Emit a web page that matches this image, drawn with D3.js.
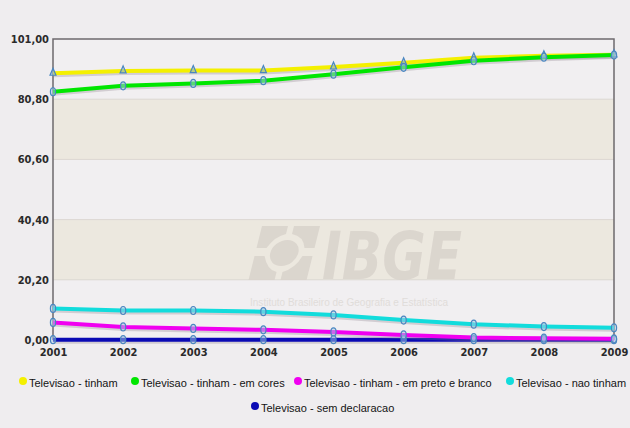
<!DOCTYPE html>
<html>
<head>
<meta charset="utf-8">
<script src="https://cdn.jsdelivr.net/npm/d3@7"></script>
<style>
  html, body { margin: 0; padding: 0; background: #efedef; }
  svg { display: block; }
</style>
</head>
<body>
<svg id="chart" width="630" height="428"></svg>
<script>
// Domicílios com televisão, 2001–2009 (%)
const years = [2001, 2002, 2003, 2004, 2005, 2006, 2007, 2008, 2009];
const tinham        = [89.5, 90.3, 90.4, 90.4, 91.6, 93.0, 94.7, 95.4, 95.7];
const tinhamCores   = [83.3, 85.3, 86.1, 87.0, 89.2, 91.5, 93.7, 94.9, 95.6];
const tinhamPB      = [5.9, 4.4, 3.9, 3.4, 2.7, 1.7, 0.8, 0.6, 0.4];
const naoTinham     = [10.6, 9.9, 9.9, 9.5, 8.4, 6.7, 5.3, 4.5, 4.1];
const semDeclaracao = [0.1, 0.1, 0.1, 0.1, 0.1, 0.1, 0.1, 0.1, 0.1];
const yTicks = [0, 20.2, 40.4, 60.6, 80.8, 101];

const seriesNames = [
  "Televisao - tinham",
  "Televisao - tinham - em cores",
  "Televisao - tinham - em preto e branco",
  "Televisao - nao tinham",
  "Televisao - sem declaracao"
];

const series = [
  { name: seriesNames[4], values: semDeclaracao, color: "#0a0ab4", marker: "ellipse" },
  { name: seriesNames[0], values: tinham,        color: "#f4f000", marker: "triangle" },
  { name: seriesNames[1], values: tinhamCores,   color: "#00e600", marker: "ellipse" },
  { name: seriesNames[3], values: naoTinham,     color: "#12dcdc", marker: "ellipse" },
  { name: seriesNames[2], values: tinhamPB,      color: "#f000f0", marker: "ellipse" }
];

const svg = d3.select("#chart");
const plotLeft = 53, plotRight = 614, plotTop = 39, plotBottom = 340;

const x = d3.scaleLinear().domain([2001, 2009]).range([plotLeft, plotRight]);
const y = d3.scaleLinear().domain([0, 101]).range([plotBottom, plotTop]);

// plot background with alternating bands
const bands = d3.pairs(yTicks);
svg.append("g").selectAll("rect").data(bands).join("rect")
  .attr("x", plotLeft).attr("width", plotRight - plotLeft)
  .attr("y", d => y(d[1])).attr("height", d => y(d[0]) - y(d[1]))
  .attr("fill", (d, i) => (i % 2 === 1) ? "#ece8df" : "#f1eff1");

// grid lines
svg.append("g").selectAll("line").data(yTicks.slice(1, -1)).join("line")
  .attr("x1", plotLeft).attr("x2", plotRight)
  .attr("y1", d => y(d)).attr("y2", d => y(d))
  .attr("stroke", "#dcd7d2").attr("stroke-width", 1);

// watermark
const wm = svg.append("g").attr("opacity", 0.85);
const logo = wm.append("g").attr("transform", "translate(258,226) skewX(-14)");
const lc = "#d9d3cc";
logo.append("path").attr("fill", lc)
  .attr("d", "M4,0 H30 V8 Q20,10 14,22 H4 Z");
logo.append("path").attr("fill", lc)
  .attr("d", "M36,0 H62 V22 H52 Q48,10 36,8 Z");
logo.append("path").attr("fill", lc)
  .attr("d", "M4,30 H14 Q20,44 30,46 V54 H4 Z");
logo.append("path").attr("fill", lc)
  .attr("d", "M52,30 H62 V54 H36 V46 Q48,42 52,30 Z");
logo.append("ellipse").attr("fill", lc).attr("cx", 33).attr("cy", 27).attr("rx", 14).attr("ry", 13);
wm.append("text")
  .attr("x", 322).attr("y", 279)
  .attr("font-family", "DejaVu Sans, sans-serif")
  .attr("font-weight", "bold").attr("font-style", "italic")
  .attr("font-size", 66).attr("fill", lc)
  .attr("textLength", 140).attr("lengthAdjust", "spacingAndGlyphs")
  .text("IBGE");
wm.append("text")
  .attr("x", 250).attr("y", 306)
  .attr("font-family", "Liberation Sans, sans-serif")
  .attr("font-size", 11.5).attr("fill", "#dedad6")
  .attr("textLength", 198).attr("lengthAdjust", "spacingAndGlyphs")
  .text("Instituto Brasileiro de Geografia e Estatística");

// plot frame
svg.append("path")
  .attr("d", `M${plotLeft},${plotBottom} V${plotTop} H${plotRight} V${plotBottom}`)
  .attr("fill", "none").attr("stroke", "#6e6a6e").attr("stroke-width", 1.5);

// axes labels
const fmt = v => d3.format(".2f")(v).replace(".", ",");
const yAxis = d3.axisLeft(y).tickValues(yTicks).tickFormat(fmt).tickSize(0).tickPadding(4);
const gy = svg.append("g").attr("transform", `translate(${plotLeft},0)`).call(yAxis);
gy.select(".domain").remove();
gy.selectAll("text")
  .attr("font-family", "DejaVu Sans Condensed, sans-serif")
  .attr("font-weight", "bold").attr("font-size", 11).attr("fill", "#2a2a2a");

const xAxis = d3.axisBottom(x).tickValues(years).tickFormat(d3.format("d")).tickSize(0).tickPadding(8);
const gx = svg.append("g").attr("transform", `translate(0,${plotBottom})`).call(xAxis);
gx.select(".domain").remove();
gx.selectAll("text")
  .attr("font-family", "DejaVu Sans Condensed, sans-serif")
  .attr("font-weight", "bold").attr("font-size", 11).attr("fill", "#2a2a2a");

// series lines
const line = d3.line().x((d, i) => x(years[i])).y(d => y(d));
const lines = svg.append("g");
series.forEach(s => {
  lines.append("path").datum(s.values)
    .attr("d", line).attr("fill", "none")
    .attr("stroke", "#8a7f8a").attr("stroke-opacity", 0.3).attr("stroke-width", 4)
    .attr("transform", "translate(0,2)");
  lines.append("path").datum(s.values)
    .attr("d", line).attr("fill", "none")
    .attr("stroke", s.color).attr("stroke-width", 4).attr("stroke-linejoin", "round");
});

// markers
const markers = svg.append("g");
series.forEach(s => {
  const g = markers.append("g");
  if (s.marker === "triangle") {
    g.selectAll("path").data(s.values).join("path")
      .attr("transform", (d, i) => `translate(${x(years[i])},${y(d)})`)
      .attr("d", "M0,-5 L3,2 L-3,2 Z")
      .attr("fill", "#8fb8d8").attr("fill-opacity", 0.6)
      .attr("stroke", "#4a86c0").attr("stroke-width", 1.2);
  } else {
    g.selectAll("ellipse").data(s.values).join("ellipse")
      .attr("cx", (d, i) => x(years[i])).attr("cy", d => y(d))
      .attr("rx", 2.6).attr("ry", 4)
      .attr("fill", "#a9cbe8").attr("fill-opacity", 0.5)
      .attr("stroke", "#4a86c0").attr("stroke-width", 1.2);
  }
});

// legend
const legendItems = [
  { name: seriesNames[0], color: "#f4f000", x: 23,  y: 383 },
  { name: seriesNames[1], color: "#00e600", x: 135, y: 383 },
  { name: seriesNames[2], color: "#f000f0", x: 298, y: 383 },
  { name: seriesNames[3], color: "#12dcdc", x: 510, y: 383 },
  { name: seriesNames[4], color: "#0a0ab4", x: 255, y: 408 }
];
const lg = svg.append("g").selectAll("g").data(legendItems).join("g")
  .attr("transform", d => `translate(${d.x},${d.y})`);
lg.append("circle").attr("cx", 0).attr("cy", -2).attr("r", 4).attr("fill", d => d.color);
lg.append("text").attr("x", 6).attr("y", 4)
  .attr("font-family", "Liberation Sans, sans-serif")
  .attr("font-size", 11).attr("fill", "#141414")
  .text(d => d.name);
</script>
</body>
</html>
